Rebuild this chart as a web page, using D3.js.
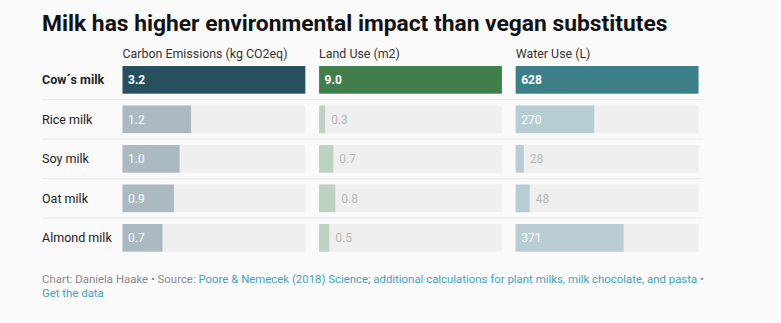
<!DOCTYPE html>
<html>
<head>
<meta charset="utf-8">
<script src="https://cdn.jsdelivr.net/npm/d3@7"></script>
<style>
  body { margin: 0; background: #fafafa; }
  svg { display: block; font-family: Roboto, "Noto Sans", sans-serif; }
</style>
</head>
<body>
<svg id="chart"></svg>
<script>
// milk types, top to bottom
var milks = ["Cow´s milk", "Rice milk", "Soy milk", "Oat milk", "Almond milk"];
var metrics = ["Carbon Emissions (kg CO2eq)", "Land Use (m2)", "Water Use (L)"];
var carbon = [3.2, 1.2, 1.0, 0.9, 0.7];
var land = [9.0, 0.3, 0.7, 0.8, 0.5];
var water = [628, 270, 28, 48, 371];
var formats = [d3.format(".1f"), d3.format(".1f"), d3.format("d")];

var width = 781, height = 323;
var strong = ["#27505e", "#427e4a", "#3d7f87"],
    light = ["#abbac1", "#bdd2c2", "#b8cdd3"];

var svg = d3.select("#chart")
    .attr("width", width)
    .attr("height", height);

svg.append("text")
    .attr("x", 42)
    .attr("y", 31)
    .style("font-size", "22.8px")
    .style("font-weight", 700)
    .attr("fill", "#111")
    .text("Milk has higher environmental impact than vegan substitutes");

var y = d3.scaleBand()
    .domain(milks)
    .range([60.1, 257.6])
    .paddingInner(0.3)
    .paddingOuter(0.15);

var col = d3.scaleBand()
    .domain(metrics)
    .range([122.5, 698.5])
    .paddingInner(0.07);

// row separators
svg.selectAll(".sep")
    .data(milks.slice(0, -1))
  .enter().append("line")
    .attr("class", "sep")
    .attr("x1", 42)
    .attr("x2", 703)
    .attr("y1", function(d) { return y(d) + y.bandwidth() + (y.step() - y.bandwidth()) / 2; })
    .attr("y2", function(d) { return y(d) + y.bandwidth() + (y.step() - y.bandwidth()) / 2; })
    .attr("stroke", "#ebebeb")
    .attr("stroke-width", 1);

// row labels
svg.selectAll(".rowlabel")
    .data(milks)
  .enter().append("text")
    .attr("class", "rowlabel")
    .attr("x", 42)
    .attr("y", function(d) { return y(d) + y.bandwidth() / 2; })
    .attr("dy", "0.35em")
    .style("font-size", "12.5px")
    .style("font-weight", function(d, i) { return i === 0 ? 700 : 400; })
    .attr("fill", "#222")
    .text(function(d) { return d; });

[carbon, land, water].forEach(function(values, m) {
  var x = d3.scaleLinear()
      .domain([0, d3.max(values)])
      .range([0, col.bandwidth()]);
  var x0 = col(metrics[m]);
  var g = svg.append("g").attr("transform", "translate(" + x0 + ",0)");

  g.append("text")
      .attr("x", 0)
      .attr("y", 58)
      .style("font-size", "12.4px")
      .attr("fill", "#333")
      .text(metrics[m]);

  // background tracks
  g.selectAll(".track")
      .data(milks)
    .enter().append("rect")
      .attr("class", "track")
      .attr("x", 0)
      .attr("y", function(d) { return y(d); })
      .attr("width", col.bandwidth())
      .attr("height", y.bandwidth())
      .attr("fill", "#efefef");

  g.selectAll(".bar")
      .data(values)
    .enter().append("rect")
      .attr("class", "bar")
      .attr("x", 0)
      .attr("y", function(d, i) { return y(milks[i]); })
      .attr("width", function(d) { return x(d); })
      .attr("height", y.bandwidth())
      .attr("fill", function(d, i) { return i === 0 ? strong[m] : light[m]; });

  g.selectAll(".val")
      .data(values)
    .enter().append("text")
      .attr("class", "val")
      .attr("x", function(d) { return x(d) > 30 ? 5.5 : x(d) + 6; })
      .attr("y", function(d, i) { return y(milks[i]) + y.bandwidth() / 2; })
      .attr("dy", "0.35em")
      .style("font-size", "12px")
      .style("font-weight", function(d, i) { return i === 0 ? 700 : 400; })
      .attr("fill", function(d) { return x(d) > 30 ? "#fff" : "#b8b8b8"; })
      .text(function(d) { return formats[m](d); });
});

// footer
var foot = svg.append("text")
    .attr("x", 42)
    .attr("y", 283)
    .style("font-size", "11.4px")
    .attr("fill", "#8a8a8a");
foot.append("tspan").text("Chart: Daniela Haake • Source: ");
foot.append("tspan").attr("fill", "#3fa3c4")
    .text("Poore & Nemecek (2018) Science; additional calculations for plant milks, milk chocolate, and pasta");
foot.append("tspan").text(" •");

svg.append("text")
    .attr("x", 42)
    .attr("y", 297)
    .style("font-size", "11.4px")
    .attr("fill", "#3fa3c4")
    .text("Get the data");
</script>
</body>
</html>
